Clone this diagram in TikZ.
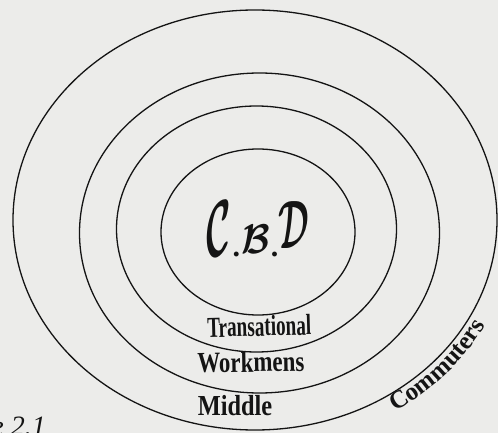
\documentclass[tikz,border=0pt]{standalone}
\usepackage{amsmath}
\usepackage{fontspec}
\setmainfont{Liberation Serif}
\usetikzlibrary{decorations.text}
\definecolor{paper}{RGB}{236,236,234}
\definecolor{ink}{RGB}{20,20,20}
\tikzset{
  ring/.style={draw=ink, line width=1.3pt},
  zonelabel/.style={text=ink, inner sep=0pt, anchor=base, font=\fontsize{29}{29}\selectfont\bfseries},
}
\newcommand{\cbdmark}{%
  \scalebox{1.8}[3.9]{$\boldsymbol{\mathcal{C}}$}%
  \hspace{1pt}\scalebox{1.5}{\textbf{.}}\hspace{1pt}%
  \raisebox{3pt}{\scalebox{1.8}[2.0]{$\boldsymbol{\mathcal{B}}$}}%
  \hspace{1pt}\scalebox{1.5}{\textbf{.}}%
  \raisebox{8pt}{\scalebox{1.6}[3.3]{$\boldsymbol{\mathcal{D}}$}}}
\begin{document}
\begin{tikzpicture}[x=1pt,y=-1pt]
  \fill[paper] (0,0) rectangle (498,433);
  \useasboundingbox (0,0) rectangle (498,433);
  \clip (0,0) rectangle (498,433);
  % concentric zones
  \draw[ring] (255,220) ellipse [x radius=242pt, y radius=210pt];
  \draw[ring] (259.5,233) ellipse [x radius=180pt, y radius=160pt];
  \draw[ring] (256.5,229) ellipse [x radius=140pt, y radius=123pt];
  \draw[ring] (258,232) ellipse [x radius=97pt, y radius=83pt];
  % labels
  \node[text=ink, inner sep=0pt, anchor=base, font=\fontsize{20}{20}\selectfont] (cbd) at (258,256) {\cbdmark};
  \node[zonelabel, rotate=1.5, xscale=0.66] (trans) at (259.5,336) {Transational};
  \node[zonelabel, rotate=1, xscale=0.79] (work) at (251,372) {Workmens};
  \node[zonelabel, xscale=0.84] (mid) at (235,415) {Middle};
  \path[decorate, decoration={text along path, text align=center,
      text={|\fontsize{25}{25}\selectfont\bfseries\color{ink}|Commuters}}]
    plot[domain=58:27, samples=40] ({255+260*cos(\x)}, {220+227*sin(\x)});
  \node[text=ink, inner sep=0pt, anchor=base east, font=\fontsize{28}{28}\selectfont\itshape] (fig) at (46,435) {e 2.1};
\end{tikzpicture}
\end{document}
